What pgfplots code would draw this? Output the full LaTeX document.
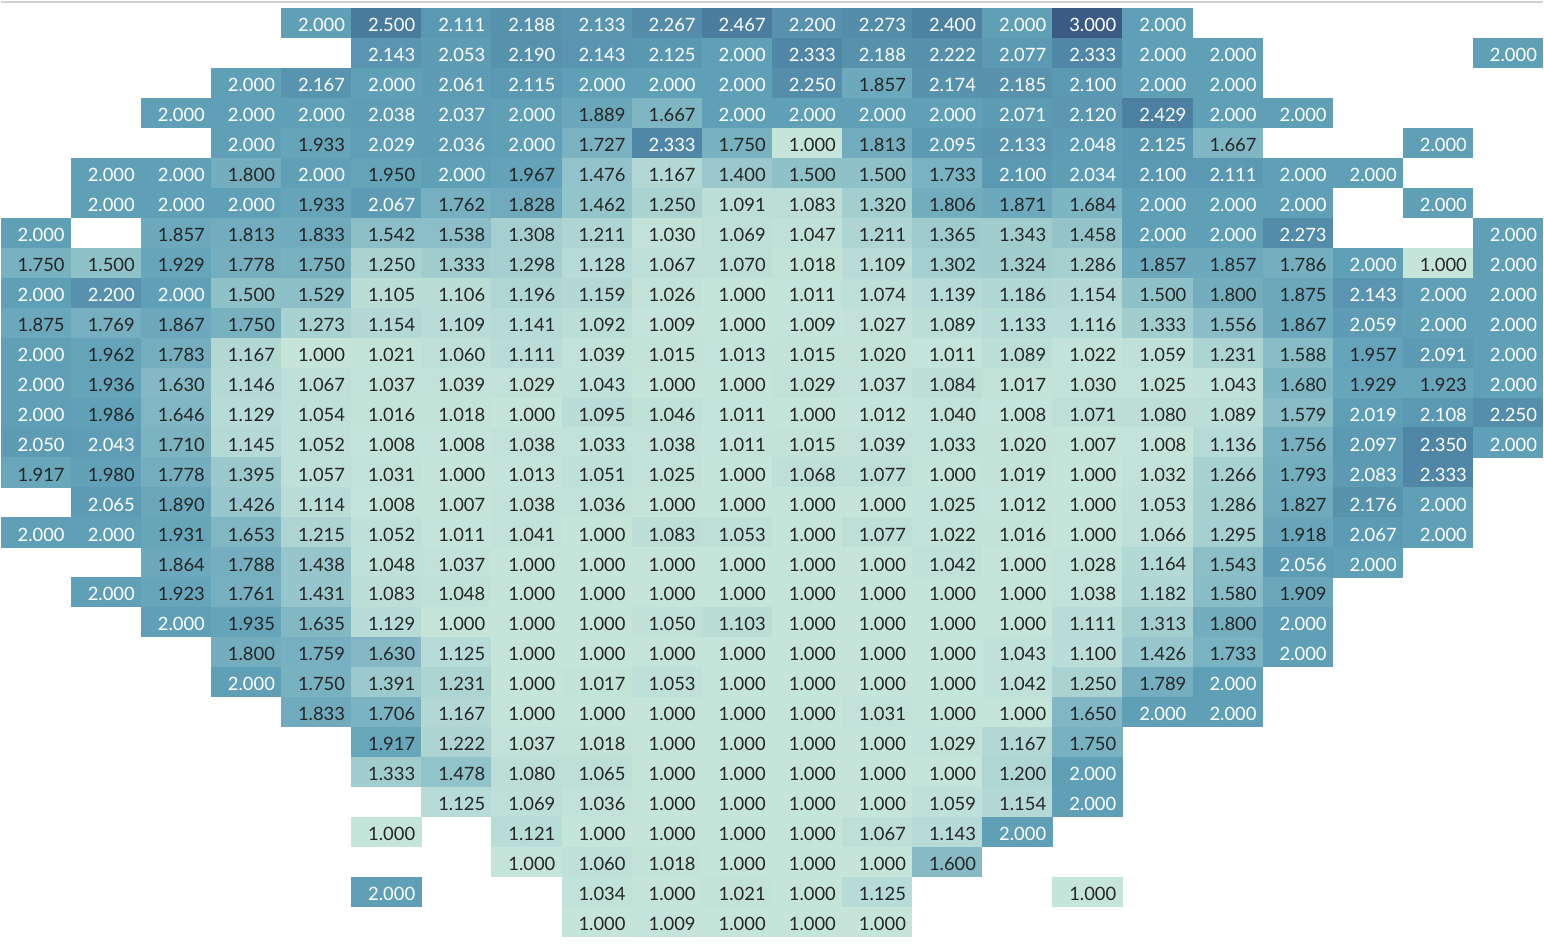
\documentclass[border=0pt]{standalone}
\usepackage{fontspec}
\setmainfont{Lato}
\usepackage{pgfplots}
\usepackage{pgfplotstable}
\pgfplotsset{compat=1.18}

\definecolor{txt}{RGB}{38,38,38}

% one heat-map cell, sized to one column x one row of the axis
\pgfdeclareplotmark{cell}{%
  \pgfpathrectangle{\pgfpoint{-17.6pt}{-7.55pt}}{\pgfpoint{35.2pt}{15.1pt}}%
  \pgfusepathqfill}

% x = column, y = row (0 at top), v = value
\pgfplotstableread[row sep=\\]{
x y v\\
4 0 2.000\\ 5 0 2.500\\ 6 0 2.111\\ 7 0 2.188\\ 8 0 2.133\\ 9 0 2.267\\ 10 0 2.467\\ 11 0 2.200\\ 12 0 2.273\\ 13 0 2.400\\ 14 0 2.000\\ 15 0 3.000\\ 16 0 2.000\\
5 1 2.143\\ 6 1 2.053\\ 7 1 2.190\\ 8 1 2.143\\ 9 1 2.125\\ 10 1 2.000\\ 11 1 2.333\\ 12 1 2.188\\ 13 1 2.222\\ 14 1 2.077\\ 15 1 2.333\\ 16 1 2.000\\ 17 1 2.000\\ 21 1 2.000\\
3 2 2.000\\ 4 2 2.167\\ 5 2 2.000\\ 6 2 2.061\\ 7 2 2.115\\ 8 2 2.000\\ 9 2 2.000\\ 10 2 2.000\\ 11 2 2.250\\ 12 2 1.857\\ 13 2 2.174\\ 14 2 2.185\\ 15 2 2.100\\ 16 2 2.000\\ 17 2 2.000\\
2 3 2.000\\ 3 3 2.000\\ 4 3 2.000\\ 5 3 2.038\\ 6 3 2.037\\ 7 3 2.000\\ 8 3 1.889\\ 9 3 1.667\\ 10 3 2.000\\ 11 3 2.000\\ 12 3 2.000\\ 13 3 2.000\\ 14 3 2.071\\ 15 3 2.120\\ 16 3 2.429\\ 17 3 2.000\\ 18 3 2.000\\
3 4 2.000\\ 4 4 1.933\\ 5 4 2.029\\ 6 4 2.036\\ 7 4 2.000\\ 8 4 1.727\\ 9 4 2.333\\ 10 4 1.750\\ 11 4 1.000\\ 12 4 1.813\\ 13 4 2.095\\ 14 4 2.133\\ 15 4 2.048\\ 16 4 2.125\\ 17 4 1.667\\ 20 4 2.000\\
1 5 2.000\\ 2 5 2.000\\ 3 5 1.800\\ 4 5 2.000\\ 5 5 1.950\\ 6 5 2.000\\ 7 5 1.967\\ 8 5 1.476\\ 9 5 1.167\\ 10 5 1.400\\ 11 5 1.500\\ 12 5 1.500\\ 13 5 1.733\\ 14 5 2.100\\ 15 5 2.034\\ 16 5 2.100\\ 17 5 2.111\\ 18 5 2.000\\ 19 5 2.000\\
1 6 2.000\\ 2 6 2.000\\ 3 6 2.000\\ 4 6 1.933\\ 5 6 2.067\\ 6 6 1.762\\ 7 6 1.828\\ 8 6 1.462\\ 9 6 1.250\\ 10 6 1.091\\ 11 6 1.083\\ 12 6 1.320\\ 13 6 1.806\\ 14 6 1.871\\ 15 6 1.684\\ 16 6 2.000\\ 17 6 2.000\\ 18 6 2.000\\ 20 6 2.000\\
0 7 2.000\\ 2 7 1.857\\ 3 7 1.813\\ 4 7 1.833\\ 5 7 1.542\\ 6 7 1.538\\ 7 7 1.308\\ 8 7 1.211\\ 9 7 1.030\\ 10 7 1.069\\ 11 7 1.047\\ 12 7 1.211\\ 13 7 1.365\\ 14 7 1.343\\ 15 7 1.458\\ 16 7 2.000\\ 17 7 2.000\\ 18 7 2.273\\ 21 7 2.000\\
0 8 1.750\\ 1 8 1.500\\ 2 8 1.929\\ 3 8 1.778\\ 4 8 1.750\\ 5 8 1.250\\ 6 8 1.333\\ 7 8 1.298\\ 8 8 1.128\\ 9 8 1.067\\ 10 8 1.070\\ 11 8 1.018\\ 12 8 1.109\\ 13 8 1.302\\ 14 8 1.324\\ 15 8 1.286\\ 16 8 1.857\\ 17 8 1.857\\ 18 8 1.786\\ 19 8 2.000\\ 20 8 1.000\\ 21 8 2.000\\
0 9 2.000\\ 1 9 2.200\\ 2 9 2.000\\ 3 9 1.500\\ 4 9 1.529\\ 5 9 1.105\\ 6 9 1.106\\ 7 9 1.196\\ 8 9 1.159\\ 9 9 1.026\\ 10 9 1.000\\ 11 9 1.011\\ 12 9 1.074\\ 13 9 1.139\\ 14 9 1.186\\ 15 9 1.154\\ 16 9 1.500\\ 17 9 1.800\\ 18 9 1.875\\ 19 9 2.143\\ 20 9 2.000\\ 21 9 2.000\\
0 10 1.875\\ 1 10 1.769\\ 2 10 1.867\\ 3 10 1.750\\ 4 10 1.273\\ 5 10 1.154\\ 6 10 1.109\\ 7 10 1.141\\ 8 10 1.092\\ 9 10 1.009\\ 10 10 1.000\\ 11 10 1.009\\ 12 10 1.027\\ 13 10 1.089\\ 14 10 1.133\\ 15 10 1.116\\ 16 10 1.333\\ 17 10 1.556\\ 18 10 1.867\\ 19 10 2.059\\ 20 10 2.000\\ 21 10 2.000\\
0 11 2.000\\ 1 11 1.962\\ 2 11 1.783\\ 3 11 1.167\\ 4 11 1.000\\ 5 11 1.021\\ 6 11 1.060\\ 7 11 1.111\\ 8 11 1.039\\ 9 11 1.015\\ 10 11 1.013\\ 11 11 1.015\\ 12 11 1.020\\ 13 11 1.011\\ 14 11 1.089\\ 15 11 1.022\\ 16 11 1.059\\ 17 11 1.231\\ 18 11 1.588\\ 19 11 1.957\\ 20 11 2.091\\ 21 11 2.000\\
0 12 2.000\\ 1 12 1.936\\ 2 12 1.630\\ 3 12 1.146\\ 4 12 1.067\\ 5 12 1.037\\ 6 12 1.039\\ 7 12 1.029\\ 8 12 1.043\\ 9 12 1.000\\ 10 12 1.000\\ 11 12 1.029\\ 12 12 1.037\\ 13 12 1.084\\ 14 12 1.017\\ 15 12 1.030\\ 16 12 1.025\\ 17 12 1.043\\ 18 12 1.680\\ 19 12 1.929\\ 20 12 1.923\\ 21 12 2.000\\
0 13 2.000\\ 1 13 1.986\\ 2 13 1.646\\ 3 13 1.129\\ 4 13 1.054\\ 5 13 1.016\\ 6 13 1.018\\ 7 13 1.000\\ 8 13 1.095\\ 9 13 1.046\\ 10 13 1.011\\ 11 13 1.000\\ 12 13 1.012\\ 13 13 1.040\\ 14 13 1.008\\ 15 13 1.071\\ 16 13 1.080\\ 17 13 1.089\\ 18 13 1.579\\ 19 13 2.019\\ 20 13 2.108\\ 21 13 2.250\\
0 14 2.050\\ 1 14 2.043\\ 2 14 1.710\\ 3 14 1.145\\ 4 14 1.052\\ 5 14 1.008\\ 6 14 1.008\\ 7 14 1.038\\ 8 14 1.033\\ 9 14 1.038\\ 10 14 1.011\\ 11 14 1.015\\ 12 14 1.039\\ 13 14 1.033\\ 14 14 1.020\\ 15 14 1.007\\ 16 14 1.008\\ 17 14 1.136\\ 18 14 1.756\\ 19 14 2.097\\ 20 14 2.350\\ 21 14 2.000\\
0 15 1.917\\ 1 15 1.980\\ 2 15 1.778\\ 3 15 1.395\\ 4 15 1.057\\ 5 15 1.031\\ 6 15 1.000\\ 7 15 1.013\\ 8 15 1.051\\ 9 15 1.025\\ 10 15 1.000\\ 11 15 1.068\\ 12 15 1.077\\ 13 15 1.000\\ 14 15 1.019\\ 15 15 1.000\\ 16 15 1.032\\ 17 15 1.266\\ 18 15 1.793\\ 19 15 2.083\\ 20 15 2.333\\
1 16 2.065\\ 2 16 1.890\\ 3 16 1.426\\ 4 16 1.114\\ 5 16 1.008\\ 6 16 1.007\\ 7 16 1.038\\ 8 16 1.036\\ 9 16 1.000\\ 10 16 1.000\\ 11 16 1.000\\ 12 16 1.000\\ 13 16 1.025\\ 14 16 1.012\\ 15 16 1.000\\ 16 16 1.053\\ 17 16 1.286\\ 18 16 1.827\\ 19 16 2.176\\ 20 16 2.000\\
0 17 2.000\\ 1 17 2.000\\ 2 17 1.931\\ 3 17 1.653\\ 4 17 1.215\\ 5 17 1.052\\ 6 17 1.011\\ 7 17 1.041\\ 8 17 1.000\\ 9 17 1.083\\ 10 17 1.053\\ 11 17 1.000\\ 12 17 1.077\\ 13 17 1.022\\ 14 17 1.016\\ 15 17 1.000\\ 16 17 1.066\\ 17 17 1.295\\ 18 17 1.918\\ 19 17 2.067\\ 20 17 2.000\\
2 18 1.864\\ 3 18 1.788\\ 4 18 1.438\\ 5 18 1.048\\ 6 18 1.037\\ 7 18 1.000\\ 8 18 1.000\\ 9 18 1.000\\ 10 18 1.000\\ 11 18 1.000\\ 12 18 1.000\\ 13 18 1.042\\ 14 18 1.000\\ 15 18 1.028\\ 16 18 1.164\\ 17 18 1.543\\ 18 18 2.056\\ 19 18 2.000\\
1 19 2.000\\ 2 19 1.923\\ 3 19 1.761\\ 4 19 1.431\\ 5 19 1.083\\ 6 19 1.048\\ 7 19 1.000\\ 8 19 1.000\\ 9 19 1.000\\ 10 19 1.000\\ 11 19 1.000\\ 12 19 1.000\\ 13 19 1.000\\ 14 19 1.000\\ 15 19 1.038\\ 16 19 1.182\\ 17 19 1.580\\ 18 19 1.909\\
2 20 2.000\\ 3 20 1.935\\ 4 20 1.635\\ 5 20 1.129\\ 6 20 1.000\\ 7 20 1.000\\ 8 20 1.000\\ 9 20 1.050\\ 10 20 1.103\\ 11 20 1.000\\ 12 20 1.000\\ 13 20 1.000\\ 14 20 1.000\\ 15 20 1.111\\ 16 20 1.313\\ 17 20 1.800\\ 18 20 2.000\\
3 21 1.800\\ 4 21 1.759\\ 5 21 1.630\\ 6 21 1.125\\ 7 21 1.000\\ 8 21 1.000\\ 9 21 1.000\\ 10 21 1.000\\ 11 21 1.000\\ 12 21 1.000\\ 13 21 1.000\\ 14 21 1.043\\ 15 21 1.100\\ 16 21 1.426\\ 17 21 1.733\\ 18 21 2.000\\
3 22 2.000\\ 4 22 1.750\\ 5 22 1.391\\ 6 22 1.231\\ 7 22 1.000\\ 8 22 1.017\\ 9 22 1.053\\ 10 22 1.000\\ 11 22 1.000\\ 12 22 1.000\\ 13 22 1.000\\ 14 22 1.042\\ 15 22 1.250\\ 16 22 1.789\\ 17 22 2.000\\
4 23 1.833\\ 5 23 1.706\\ 6 23 1.167\\ 7 23 1.000\\ 8 23 1.000\\ 9 23 1.000\\ 10 23 1.000\\ 11 23 1.000\\ 12 23 1.031\\ 13 23 1.000\\ 14 23 1.000\\ 15 23 1.650\\ 16 23 2.000\\ 17 23 2.000\\
5 24 1.917\\ 6 24 1.222\\ 7 24 1.037\\ 8 24 1.018\\ 9 24 1.000\\ 10 24 1.000\\ 11 24 1.000\\ 12 24 1.000\\ 13 24 1.029\\ 14 24 1.167\\ 15 24 1.750\\
5 25 1.333\\ 6 25 1.478\\ 7 25 1.080\\ 8 25 1.065\\ 9 25 1.000\\ 10 25 1.000\\ 11 25 1.000\\ 12 25 1.000\\ 13 25 1.000\\ 14 25 1.200\\ 15 25 2.000\\
6 26 1.125\\ 7 26 1.069\\ 8 26 1.036\\ 9 26 1.000\\ 10 26 1.000\\ 11 26 1.000\\ 12 26 1.000\\ 13 26 1.059\\ 14 26 1.154\\ 15 26 2.000\\
5 27 1.000\\ 7 27 1.121\\ 8 27 1.000\\ 9 27 1.000\\ 10 27 1.000\\ 11 27 1.000\\ 12 27 1.067\\ 13 27 1.143\\ 14 27 2.000\\
7 28 1.000\\ 8 28 1.060\\ 9 28 1.018\\ 10 28 1.000\\ 11 28 1.000\\ 12 28 1.000\\ 13 28 1.600\\
5 29 2.000\\ 8 29 1.034\\ 9 29 1.000\\ 10 29 1.021\\ 11 29 1.000\\ 12 29 1.125\\ 15 29 1.000\\
8 30 1.000\\ 9 30 1.009\\ 10 30 1.000\\ 11 30 1.000\\ 12 30 1.000\\
}\cells

\begin{document}
\begin{tikzpicture}
\begin{axis}[
    scale only axis,
    width=772pt, height=472pt,
    axis lines=none,
    xmin=-0.5, xmax=21.5,
    ymin=-0.767, ymax=30.70,
    y dir=reverse,
    clip=false,
    colormap={tab}{rgb255(0cm)=(197,228,218); rgb255(1cm)=(143,193,201);
      rgb255(2cm)=(96,160,183); rgb255(3cm)=(73,123,157); rgb255(4cm)=(59,91,133)},
    point meta min=1, point meta max=3,
    lbl/.style={only marks, mark=none,
      point meta=explicit symbolic, nodes near coords,
      every node near coord/.append style={anchor=east, xshift=14.6pt,
        yshift=-1pt, inner sep=0pt, font=\fontsize{9.2}{11}\selectfont, text=#1}},
  ]
  \path (rel axis cs:0,0) rectangle (rel axis cs:1,1);
  \draw[black!18, line width=0.8pt] (axis cs:-0.5,-0.7) -- (axis cs:21.5,-0.7);
  % coloured cells
  \addplot[scatter, only marks, mark=cell,
      scatter/use mapped color={draw=none, fill=mapped color},
      point meta=\thisrow{v}] table[x=x, y=y] {\cells};
  % labels: dark text below 2, white text from 2 up
  \addplot[lbl=txt, restrict expr to domain={\thisrow{v}}{0:1.99}]
    table[x=x, y=y, meta=v] {\cells};
  \addplot[lbl=white, restrict expr to domain={\thisrow{v}}{1.995:4}]
    table[x=x, y=y, meta=v] {\cells};
\end{axis}
\end{tikzpicture}
\end{document}
